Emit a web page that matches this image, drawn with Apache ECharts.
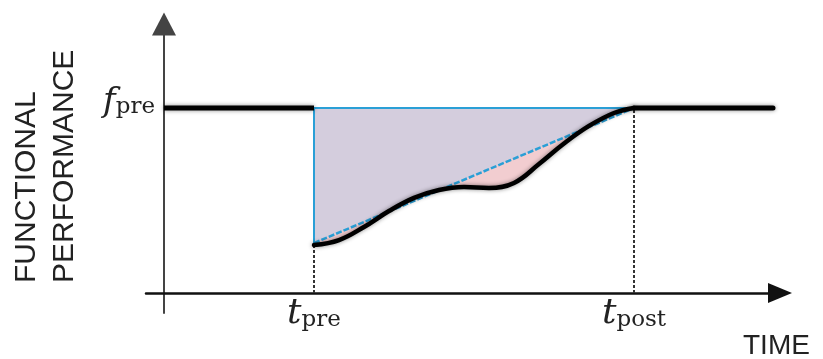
<!DOCTYPE html>
<html>
<head>
<meta charset="utf-8">
<script src="https://cdn.jsdelivr.net/npm/echarts@6/dist/echarts.min.js"></script>
<style>
  html, body { margin: 0; padding: 0; background: #ffffff; }
  #chart { width: 823px; height: 359px; }
</style>
</head>
<body>
<div id="chart"></div>
<script>
// ---- data (time units on x, performance normalised so f_pre = 1) ----
const curveX = [3, 3.5, 4, 4.5, 5, 5.5, 6, 6.5, 7, 7.5, 8, 8.5, 9, 9.4];
const curveY = [0.259, 0.286, 0.357, 0.443, 0.514, 0.557, 0.573, 0.568, 0.595, 0.697, 0.808, 0.903, 0.973, 1.0];
const tPre = 3;
const tPost = 9.4;
const fPre = 1;
const triangleBottom = 0.27;
const levelStartX = 0;
const levelEndX = 12.18;
const xTickValues = [3, 9.4];
const xTickLabels = ['pre', 'post'];
const yTickValues = [1];
const yTickLabels = ['pre'];
const xAxisName = 'TIME';
const yAxisName = 'FUNCTIONAL\nPERFORMANCE';

const curve = curveX.map((x, i) => [x, curveY[i]]);

const chart = echarts.init(document.getElementById('chart'), null, { renderer: 'canvas' });

const serifRich = (bigSize) => ({
  it: { fontFamily: 'DejaVu Serif', fontStyle: 'italic', fontSize: bigSize, color: '#222', lineHeight: bigSize, verticalAlign: 'bottom' },
  sub: { fontFamily: 'DejaVu Serif', fontSize: 23, color: '#222', lineHeight: 14, verticalAlign: 'bottom' }
});

const option = {
  animation: false,
  backgroundColor: '#ffffff',
  grid: { left: 146, right: 43, top: 24, bottom: 46, containLabel: false, outerBoundsMode: 'none' },
  xAxis: {
    type: 'value',
    min: -0.36,
    max: 12.32,
    splitLine: { show: false },
    axisTick: { show: false },
    axisLine: {
      onZero: true,
      lineStyle: { color: '#111', width: 2.5 },
      symbol: ['none', 'triangle'],
      symbolSize: [20, 24]
    },
    axisLabel: {
      customValues: xTickValues,
      margin: -17,
      formatter: (v) => {
        const i = xTickValues.findIndex(t => Math.abs(t - v) < 1e-6);
        return '{it|t}{sub|' + xTickLabels[i] + '}';
      },
      rich: serifRich(36)
    },
    name: xAxisName,
    nameLocation: 'end',
    nameGap: -37,
    nameTextStyle: {
      fontFamily: 'Liberation Sans', fontSize: 28, color: '#222',
      align: 'left', verticalAlign: 'top', padding: [39, 0, 0, 0]
    }
  },
  yAxis: {
    type: 'value',
    min: -0.108,
    max: 1.454,
    splitLine: { show: false },
    axisTick: { show: false },
    axisLine: {
      onZero: true,
      lineStyle: { color: '#444', width: 2 },
      symbol: ['none', 'triangle'],
      symbolSize: [24, 23]
    },
    axisLabel: {
      customValues: yTickValues,
      margin: -9,
      padding: [0, 0, 12, 0],
      formatter: (v) => {
        const i = yTickValues.findIndex(t => Math.abs(t - v) < 1e-6);
        return '{it|f}{sub|' + yTickLabels[i] + '}';
      },
      rich: serifRich(34)
    }
  },
  graphic: [{
    type: 'text',
    x: 8,
    y: 283,
    rotation: Math.PI / 2,
    style: {
      text: yAxisName,
      font: '30px "Liberation Sans"',
      lineHeight: 38,
      fill: '#222',
      align: 'left',
      verticalAlign: 'top'
    }
  }],
  series: [
    { // pink: between curve and pre-level
      type: 'line', data: curve, smooth: 0.4, showSymbol: false, silent: true,
      lineStyle: { width: 0, opacity: 0 },
      areaStyle: { color: '#f2cdd0', opacity: 1, origin: fPre },
      z: 2
    },
    { // triangle fill + diagonal
      type: 'line', data: [[tPre, triangleBottom], [tPost, fPre]], showSymbol: false, silent: true,
      lineStyle: { color: '#2a9fd6', width: 2.5, type: [6, 2] },
      areaStyle: { color: '#d4cddd', opacity: 1, origin: fPre },
      z: 3
    },
    { // top + vertical blue edges
      type: 'line', data: [[tPost, fPre], [tPre, fPre], [tPre, triangleBottom]], showSymbol: false, silent: true,
      lineStyle: { color: '#2a9fd6', width: 2 },
      z: 4
    },
    { // dotted drop lines
      type: 'line', data: [[tPre, 0], [tPre, curveY[0]]], showSymbol: false, silent: true,
      lineStyle: { color: '#333', width: 2, type: [3, 2] }, z: 4
    },
    {
      type: 'line', data: [[tPost, 0], [tPost, fPre]], showSymbol: false, silent: true,
      lineStyle: { color: '#333', width: 2, type: [3, 2] }, z: 4
    },
    { // black recovery curve
      type: 'line', data: curve, smooth: 0.4, showSymbol: false, silent: true,
      lineStyle: { color: '#000', width: 4.5, cap: 'round', shadowBlur: 4, shadowColor: 'rgba(0,0,0,0.45)' },
      z: 5
    },
    { // level before
      type: 'line', data: [[levelStartX, fPre], [tPre, fPre]], showSymbol: false, silent: true,
      lineStyle: { color: '#000', width: 5, shadowBlur: 4, shadowColor: 'rgba(0,0,0,0.45)' }, z: 5
    },
    { // level after
      type: 'line', data: [[tPost, fPre], [levelEndX, fPre]], showSymbol: false, silent: true,
      lineStyle: { color: '#000', width: 5, cap: 'round', shadowBlur: 4, shadowColor: 'rgba(0,0,0,0.45)' }, z: 5
    }
  ]
};

chart.setOption(option);
</script>
</body>
</html>
